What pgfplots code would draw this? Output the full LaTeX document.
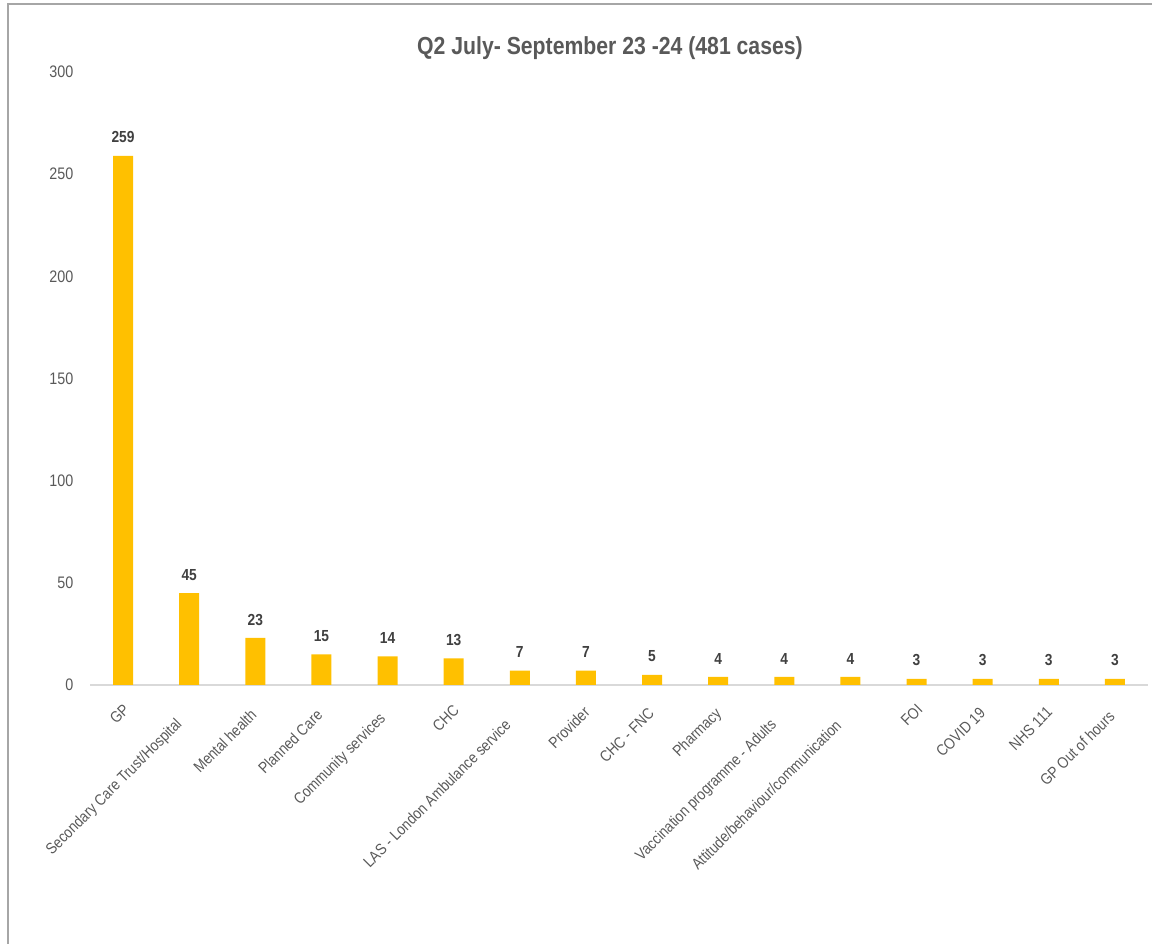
\documentclass[border=0pt]{standalone}
\usepackage{pgfplots}
\pgfplotsset{compat=1.18}
\usepackage{fontspec}
\setmainfont{Liberation Sans}
\newfontfamily\narrow[FakeStretch=0.86]{Liberation Sans}
\definecolor{barc}{HTML}{FFC000}
\definecolor{txt}{HTML}{595959}
\definecolor{vtxt}{HTML}{404040}
\definecolor{axc}{HTML}{D9D9D9}
\newsavebox\labbox
\newcommand\lab[1]{\sbox\labbox{#1}\usebox\labbox\kern0.12\wd\labbox}
\begin{document}
\begin{tikzpicture}
\useasboundingbox (0,0) rectangle (864pt,708pt);
\draw[color=gray!70, line width=0.9pt] (6pt,0) -- (6pt,705pt) -- (864pt,705pt);
\node[font=\narrow\bfseries\fontsize{18.5}{22}\selectfont, text=txt] at (457.5pt,672pt) {Q2 July- September 23 -24 (481 cases)};
\begin{axis}[
  at={(67.5pt,194.25pt)}, anchor=south west,
  scale only axis, width=793.5pt, height=459.75pt,
  xmin=-0.5, xmax=15.5, ymin=0, ymax=300,
  ytick={0,50,...,300},
  xtick=data,
  xticklabels={\lab{GP},\lab{Secondary Care Trust/Hospital},\lab{Mental health},\lab{Planned Care},\lab{Community services},\lab{CHC},\lab{LAS - London Ambulance service},\lab{Provider},\lab{CHC - FNC},\lab{Pharmacy},\lab{Vaccination programme - Adults},\lab{Attitude/behaviour/communication},\lab{FOI},\lab{COVID 19},\lab{NHS 111},\lab{GP Out of hours}},
  axis x line*=bottom, axis y line*=left,
  x axis line style={draw=axc, line width=1pt, -},
  y axis line style={draw=none},
  major tick length=0pt,
  tick style={draw=none},
  /pgf/number format/assume math mode=true,
  yticklabel style={font=\narrow\fontsize{12.5}{14}\selectfont, text=txt, anchor=east, xshift=-9pt},
  xticklabel style={font=\narrow\fontsize{11.8}{14}\selectfont, text=txt, xshift=0.75pt, yshift=-12pt, rotate=45, anchor=north east, inner sep=0pt},
  ybar, bar width=15pt,
  nodes near coords,
  nodes near coords style={font=\narrow\bfseries\fontsize{12}{14}\selectfont, text=vtxt, yshift=6pt},
]
\addplot[fill=barc, draw=none] coordinates {
(0,259) (1,45) (2,23) (3,15) (4,14) (5,13) (6,7) (7,7) (8,5) (9,4) (10,4) (11,4) (12,3) (13,3) (14,3) (15,3)};
\end{axis}
\end{tikzpicture}
\end{document}
